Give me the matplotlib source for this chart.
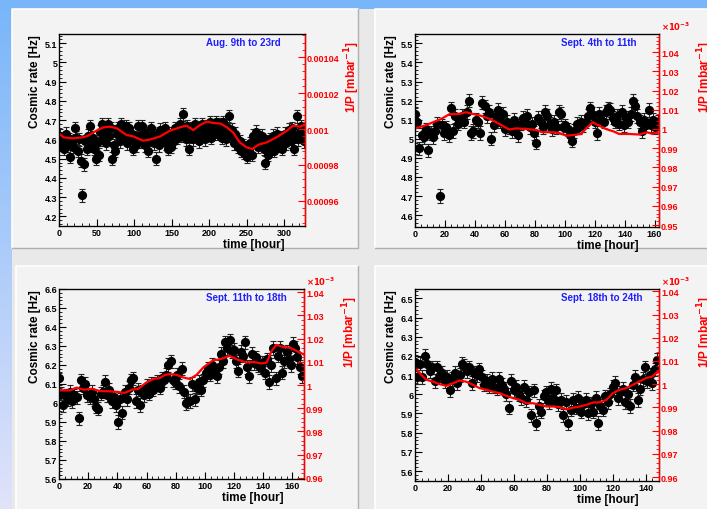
import numpy as np
import matplotlib
matplotlib.use("Agg")
import matplotlib.pyplot as plt
from matplotlib.patches import Rectangle
from matplotlib.ticker import MultipleLocator, FuncFormatter

W, H = 707, 510

# cosmic rates in Hz; August run binned every 2 h, September runs every 1.5 h
rate_aug = [4.62, 4.58, 4.60, 4.55, 4.63, 4.57, 4.60, 4.51, 4.59, 4.56,
            4.66, 4.61, 4.54, 4.60, 4.49, 4.31, 4.47, 4.59, 4.55, 4.62,
            4.67, 4.57, 4.61, 4.55, 4.50, 4.58, 4.52, 4.64, 4.68, 4.60,
            4.65, 4.58, 4.68, 4.62, 4.66, 4.50, 4.57, 4.54, 4.63, 4.66,
            4.59, 4.68, 4.61, 4.64, 4.67, 4.58, 4.66, 4.60, 4.63, 4.55,
            4.61, 4.57, 4.67, 4.62, 4.59, 4.67, 4.64, 4.57, 4.62, 4.54,
            4.60, 4.66, 4.63, 4.58, 4.50, 4.61, 4.57, 4.65, 4.60, 4.63,
            4.66, 4.58, 4.55, 4.62, 4.56, 4.63, 4.59, 4.66, 4.61, 4.64,
            4.68, 4.62, 4.73, 4.65, 4.60, 4.67, 4.55, 4.62, 4.66, 4.60,
            4.68, 4.63, 4.66, 4.59, 4.64, 4.68, 4.62, 4.60, 4.67, 4.64,
            4.69, 4.61, 4.67, 4.65, 4.69, 4.63, 4.68, 4.66, 4.61, 4.69,
            4.64, 4.60, 4.66, 4.72, 4.62, 4.65, 4.58, 4.63, 4.60, 4.56,
            4.59, 4.54, 4.57, 4.53, 4.56, 4.51, 4.55, 4.58, 4.52, 4.62,
            4.60, 4.64, 4.56, 4.61, 4.58, 4.62, 4.55, 4.48, 4.59, 4.52,
            4.60, 4.56, 4.62, 4.54, 4.58, 4.63, 4.57, 4.61, 4.55, 4.60,
            4.63, 4.58, 4.62, 4.65, 4.59, 4.66, 4.55, 4.62, 4.72, 4.60,
            4.64, 4.67, 4.62, 4.59]
rate_sep1 = [5.13, 5.09, 4.95, 5.02, 5.01, 5.05, 4.94, 5.03, 5.01, 5.04,
             5.08, 4.70, 5.07, 5.03, 5.06, 5.02, 5.16, 5.04, 5.12, 5.08,
             5.10, 5.12, 5.09, 5.14, 5.20, 5.03, 5.04, 5.10, 5.09, 5.03,
             5.19, 5.17, 5.12, 5.14, 5.00, 5.07, 5.12, 5.15, 5.09, 5.13,
             5.05, 5.09, 5.06, 5.04, 5.10, 5.06, 5.02, 5.08, 5.11, 5.09,
             5.12, 5.06, 5.08, 5.03, 4.98, 5.11, 5.09, 5.06, 5.14, 5.12,
             5.08, 5.05, 5.09, 5.06, 5.14, 5.13, 5.06, 5.07, 5.05, 5.02,
             4.99, 5.04, 5.08, 5.06, 5.09, 5.07, 5.09, 5.12, 5.16, 5.13,
             5.09, 5.03, 5.13, 5.10, 5.09, 5.14, 5.16, 5.15, 5.11, 5.09,
             5.12, 5.08, 5.14, 5.07, 5.11, 5.09, 5.13, 5.20, 5.17, 5.12,
             5.09, 5.04, 5.10, 5.07, 5.15, 5.07, 5.10, 5.06, 5.09]
rate_sep2 = [6.13, 6.05, 5.99, 6.04, 6.02, 6.06, 6.01, 6.04, 6.03, 5.92,
             6.12, 6.08, 6.10, 6.04, 6.03, 6.06, 6.02, 5.98, 5.97, 6.05,
             6.06, 6.11, 6.04, 6.07, 6.01, 6.03, 5.99, 5.90, 6.02, 5.95,
             6.06, 6.02, 6.08, 6.12, 6.13, 6.01, 6.07, 5.99, 6.06, 6.04,
             6.09, 6.05, 6.10, 6.07, 6.10, 6.11, 6.08, 6.13, 6.12, 6.15,
             6.20, 6.22, 6.12, 6.11, 6.15, 6.09, 6.18, 6.06, 6.00, 6.01,
             6.01, 6.10, 6.02, 6.08, 6.11, 6.07, 6.12, 6.16, 6.18, 6.15,
             6.20, 6.17, 6.14, 6.19, 6.26, 6.22, 6.32, 6.29, 6.33, 6.27,
             6.28, 6.22, 6.17, 6.27, 6.25, 6.32, 6.19, 6.14, 6.26, 6.21,
             6.24, 6.20, 6.19, 6.21, 6.16, 6.23, 6.11, 6.20, 6.29, 6.13,
             6.25, 6.29, 6.16, 6.22, 6.27, 6.23, 6.20, 6.31, 6.29, 6.24,
             6.19, 6.14]
rate_sep3 = [6.17, 6.09, 6.16, 6.09, 6.20, 6.16, 6.12, 6.14, 6.07, 6.14,
             6.10, 6.11, 6.07, 6.09, 6.02, 6.08, 6.11, 6.06, 6.10, 6.16,
             6.15, 6.12, 6.14, 6.06, 6.11, 6.10, 6.13, 6.09, 6.05, 6.07,
             6.04, 6.08, 6.04, 6.03, 6.08, 6.05, 6.03, 6.00, 5.93, 6.07,
             6.02, 6.04, 6.00, 5.98, 6.04, 5.97, 6.01, 5.89, 6.02, 5.85,
             5.94, 5.91, 5.99, 6.01, 5.96, 6.03, 5.98, 6.02, 5.95, 5.97,
             5.89, 5.96, 5.85, 5.92, 5.97, 5.93, 5.98, 5.91, 5.95, 5.97,
             5.90, 5.95, 5.91, 5.98, 5.85, 5.94, 5.92, 5.99, 5.96, 6.00,
             6.04, 6.06, 5.98, 6.01, 6.03, 5.96, 6.00, 5.94, 6.05, 6.09,
             5.97, 6.03, 6.08, 6.14, 6.07, 6.10, 6.06, 6.13, 6.18]
rate_err = [0.033, 0.035, 0.035, 0.035]

hours_aug = 1 + 2 * np.arange(len(rate_aug))
hours_sep1 = 1.5 * np.arange(len(rate_sep1))
hours_sep2 = 1.5 * np.arange(len(rate_sep2))
hours_sep3 = 1.5 * np.arange(len(rate_sep3))

# inverse pressure, in units of 1e-3 mbar^-1
p_hours_aug = [1, 6, 19, 32, 39, 50, 59, 68, 77, 90, 99, 112, 121, 135, 148,
               161, 170, 179, 188, 197, 206, 215, 224, 232, 241, 250, 258,
               266, 277, 290, 304, 312, 321, 327]
inv_p_aug = [0.9972, 0.9954, 0.9948, 0.9954, 0.9963, 0.9991, 1.0009, 1.0013,
             1.0004, 0.9967, 0.9959, 0.9935, 0.9941, 0.9959, 0.9991, 1.0009,
             1.0019, 0.9994, 1.0022, 1.0041, 1.0033, 1.0031, 1.0009, 0.9981,
             0.9926, 0.9898, 0.9889, 0.9913, 0.9926, 0.9954, 0.9991, 1.0019,
             1.0013, 1.0022]
p_hours_sep1 = [1, 7.5, 13, 17.5, 23, 28.7, 34, 38.7, 44, 50, 56.4, 63, 67.5,
                74, 81, 85, 92, 96.4, 101, 106.4, 111, 114, 118.7, 122, 127.5,
                133, 136.4, 143, 150, 155, 158.7, 162]
inv_p_sep1 = [1.0005, 1.0020, 1.0038, 1.0052, 1.0077, 1.0077, 1.0087, 1.0078,
              1.0069, 1.0052, 1.0026, 0.9997, 1.0003, 1.0000, 0.9995, 0.9983,
              0.9983, 0.9979, 0.9965, 0.9969, 0.9974, 1.0000, 1.0035, 1.0021,
              1.0000, 0.9986, 0.9974, 0.9974, 0.9971, 0.9983, 0.9974, 0.9983]
p_hours_sep2 = [0.7, 7.5, 12, 16.7, 22.4, 28, 35, 40.7, 45, 50, 54.4, 60, 64.7,
                69, 72.7, 76, 80.7, 85, 89.8, 94.4, 99, 105.8, 110.4, 117,
                121.8, 128.7, 133, 139, 142.4, 145.8, 149, 153.8, 158.4, 163,
                167.5]
inv_p_sep2 = [0.9977, 0.9977, 0.9989, 0.9980, 0.9984, 0.9974, 0.9973, 0.9970,
              0.9966, 0.9980, 0.9984, 1.0011, 1.0026, 1.0030, 1.0044, 1.0047,
              1.0044, 1.0033, 1.0026, 1.0044, 1.0076, 1.0107, 1.0111, 1.0126,
              1.0111, 1.0097, 1.0100, 1.0093, 1.0097, 1.0147, 1.0173, 1.0164,
              1.0161, 1.0147, 1.0133]
p_hours_sep3 = [1.2, 3.8, 6.9, 10.9, 15, 19, 23, 27, 31, 35.2, 39.2, 43.3,
                47.3, 51.4, 55.4, 59.5, 63.5, 67.6, 71.6, 75.7, 79.7, 83.8,
                87.8, 91.8, 95.9, 99.9, 104, 108, 112, 116, 120, 124, 128,
                132, 136, 140, 144, 147.5]
inv_p_sep3 = [1.0062, 1.0040, 1.0019, 1.0011, 1.0000, 0.9993, 1.0004, 1.0016,
              1.0011, 0.9997, 0.9983, 0.9976, 0.9968, 0.9961, 0.9950, 0.9940,
              0.9932, 0.9918, 0.9918, 0.9911, 0.9904, 0.9904, 0.9901, 0.9892,
              0.9899, 0.9904, 0.9911, 0.9921, 0.9922, 0.9932, 0.9961, 0.9976,
              0.9983, 0.9997, 1.0011, 1.0026, 1.0033, 1.0055]

titles = ["Aug. 9th to 23rd", "Sept. 4th to 11th",
          "Sept. 11th to 18th", "Sept. 18th to 24th"]

panels = [
    dict(box=(59, 35, 305, 227), hours=hours_aug, rate=rate_aug,
         p_hours=p_hours_aug, inv_p=inv_p_aug, xlim=(0, 328), xmaj=50, xmin=10,
         ylim=(4.15, 5.148), plim=(0.9461, 1.0528), pmaj=0.02, pmin=0.004,
         raw=True),
    dict(box=(415, 35, 659, 228), hours=hours_sep1, rate=rate_sep1,
         p_hours=p_hours_sep1, inv_p=inv_p_sep1, xlim=(0, 163), xmaj=20, xmin=4,
         ylim=(4.538, 5.549), plim=(0.949, 1.0494), pmaj=0.01, pmin=0.002,
         raw=False),
    dict(box=(59, 290, 304, 480), hours=hours_sep2, rate=rate_sep2,
         p_hours=p_hours_sep2, inv_p=inv_p_sep2, xlim=(0, 168), xmaj=20, xmin=4,
         ylim=(5.6, 6.6), plim=(0.9595, 1.0414), pmaj=0.01, pmin=0.002,
         raw=False),
    dict(box=(415, 290, 659, 482), hours=hours_sep3, rate=rate_sep3,
         p_hours=p_hours_sep3, inv_p=inv_p_sep3, xlim=(0, 148), xmaj=20, xmin=4,
         ylim=(5.548, 6.549), plim=(0.9583, 1.041), pmaj=0.01, pmin=0.002,
         raw=False),
]

plt.rcParams["font.family"] = ["Liberation Sans", "DejaVu Sans"]
plt.rcParams["font.weight"] = "bold"


def px_rect(x0, y0, x1, y1):
    return [x0 / W, 1 - y1 / H, (x1 - x0) / W, (y1 - y0) / H]


fig = plt.figure(figsize=(W / 100, H / 100), dpi=100)

# slide background
bg = fig.add_axes([0, 0, 1, 1])
top_col = np.array([0.47, 0.71, 0.98])
bot_col = np.array([0.88, 0.89, 0.98])
t = np.linspace(0, 1, 256)[:, None]
grad = (1 - t) * top_col + t * bot_col
bg.imshow(grad[:, None, :].repeat(2, axis=1), extent=[0, W, H, 0], aspect="auto")
bg.set_xlim(0, W)
bg.set_ylim(H, 0)
bg.axis("off")
bg.add_patch(Rectangle((12, 10), W, H, color="#e9e9e9", lw=0))

canvases = [(12, 10, 358, 249), (375, 10, 720, 249),
            (16, 267, 358, 520), (375, 267, 720, 520)]
for x0, y0, x1, y1 in canvases:
    bg.add_patch(Rectangle((x0, y0), x1 - x0, y1 - y0, facecolor="#f3f3f3",
                           edgecolor="none"))
    bg.plot([x0, x0, x1], [y1, y0, y0], color="white", lw=1.2)
    bg.plot([x0, x1, x1], [y1, y1, y0], color="#b0b0b0", lw=1.0)

tick_fmt = FuncFormatter(lambda v, pos: f"{round(v, 4):g}")
raw_fmt = FuncFormatter(lambda v, pos: f"{round(v, 4) * 1e-3:g}")

for i, p in enumerate(panels):
    ax = fig.add_axes(px_rect(*p["box"]))
    ax.set_facecolor("#f3f3f3")
    ax.errorbar(p["hours"], p["rate"], yerr=rate_err[i], fmt="o", color="black",
                ms=5.6, capsize=2.4, elinewidth=0.8, capthick=0.8, ecolor="#222222")
    ax.set_xlim(*p["xlim"])
    ax.set_ylim(*p["ylim"])
    ax.xaxis.set_major_locator(MultipleLocator(p["xmaj"]))
    ax.xaxis.set_minor_locator(MultipleLocator(p["xmin"]))
    ax.yaxis.set_major_locator(MultipleLocator(0.1))
    ax.yaxis.set_minor_locator(MultipleLocator(0.02))
    ax.yaxis.set_major_formatter(tick_fmt)
    ax.tick_params(which="both", direction="in", labelsize=6.5, pad=1.2)
    ax.tick_params(which="major", length=5, width=0.8)
    ax.tick_params(which="minor", length=2.5, width=0.6)
    for s in ax.spines.values():
        s.set_linewidth(0.9)
    ax.text(-0.098, 1.0, "Cosmic rate [Hz]", rotation=90, ha="center",
            va="top", fontsize=8.5, transform=ax.transAxes)
    ax.text(0.915, -0.095, "time [hour]", ha="right", va="center",
            fontsize=8.5, transform=ax.transAxes)
    ax.text(0.598, 0.958, titles[i], ha="left", va="center", fontsize=7,
            color="#1f1fff", transform=ax.transAxes)

    ax2 = ax.twinx()
    ax2.plot(p["p_hours"], p["inv_p"], color="red", lw=1.6)
    ax2.set_ylim(*p["plim"])
    ax2.yaxis.set_major_locator(MultipleLocator(p["pmaj"]))
    ax2.yaxis.set_minor_locator(MultipleLocator(p["pmin"]))
    ax2.yaxis.set_major_formatter(raw_fmt if p["raw"] else tick_fmt)
    ax2.spines["right"].set_color("red")
    ax2.spines["right"].set_linewidth(1.0)
    ax2.tick_params(which="both", direction="in", colors="red", labelsize=6.5,
                    pad=1.5)
    ax2.tick_params(which="major", length=5, width=0.8)
    ax2.tick_params(which="minor", length=2.5, width=0.6)
    ax2.text(1.19, 0.97, "1/P [mbar$^{-1}$]", rotation=90, ha="center",
             va="top", fontsize=8.5, color="red", transform=ax2.transAxes)
    if not p["raw"]:
        ax2.text(1.01, 1.01, r"$\times10^{-3}$", ha="left", va="bottom",
                 fontsize=6, color="red", transform=ax2.transAxes)

fig.savefig("out.png", dpi=100)
